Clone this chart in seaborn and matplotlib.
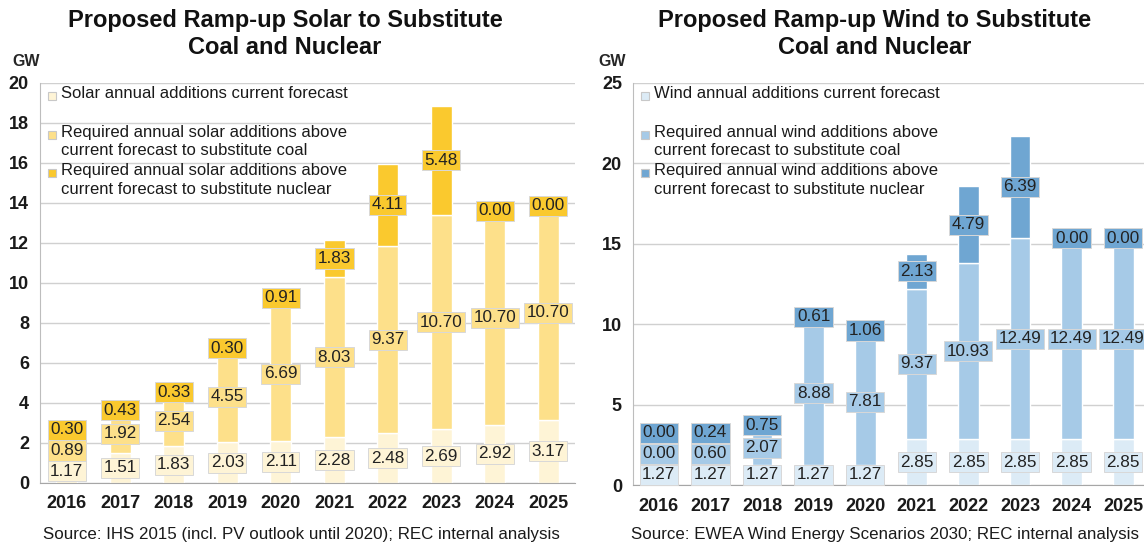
import matplotlib
matplotlib.use("Agg")
import matplotlib.pyplot as plt
import seaborn as sns
from matplotlib.patches import Rectangle

# data
years = ['2016', '2017', '2018', '2019', '2020', '2021', '2022', '2023', '2024', '2025']

solar_current = [1.17, 1.51, 1.83, 2.03, 2.11, 2.28, 2.48, 2.69, 2.92, 3.17]
solar_coal = [0.89, 1.92, 2.54, 4.55, 6.69, 8.03, 9.37, 10.70, 10.70, 10.70]
solar_nuclear = [0.30, 0.43, 0.33, 0.30, 0.91, 1.83, 4.11, 5.48, 0.00, 0.00]

wind_current = [1.27, 1.27, 1.27, 1.27, 1.27, 2.85, 2.85, 2.85, 2.85, 2.85]
wind_coal = [0.00, 0.60, 2.07, 8.88, 7.81, 9.37, 10.93, 12.49, 12.49, 12.49]
wind_nuclear = [0.00, 0.24, 0.75, 0.61, 1.06, 2.13, 4.79, 6.39, 0.00, 0.00]

solar_labels = [
    "Solar annual additions current forecast",
    "Required annual solar additions above\ncurrent forecast to substitute coal",
    "Required annual solar additions above\ncurrent forecast to substitute nuclear",
]
wind_labels = [
    "Wind annual additions current forecast",
    "Required annual wind additions above\ncurrent forecast to substitute coal",
    "Required annual wind additions above\ncurrent forecast to substitute nuclear",
]

solar_colors = ['#FEF4D6', '#FDE08A', '#FAC92E']
wind_colors = ['#DCEBF6', '#A6CAE7', '#6FA6D2']

W, H = 1144, 546

sns.set_style("white")
plt.rcParams['font.family'] = ['Liberation Sans', 'DejaVu Sans']

fig = plt.figure(figsize=(W / 100, H / 100), dpi=100)
ax1 = fig.add_axes([0.035, 0.1154, 0.4676, 0.7326])
ax2 = fig.add_axes([633 / W, 0.1117, 516 / W, 0.7363])


def legend_box(x_px, labels, colors):
    # Excel-style legend: two text rows per entry, square beside the first line
    for k, (lab, col) in enumerate(zip(labels, colors)):
        y_px = 96 + 38.5 * k
        fig.patches.append(Rectangle(((x_px - 4) / W, 1 - (y_px + 4) / H),
                                     8 / W, 8 / H, transform=fig.transFigure,
                                     fc=col, ec='#c8c8c8', lw=0.8))
        fig.text((x_px + 9) / W, 1 - (y_px - 10) / H, lab, ha='left', va='top',
                 fontsize=12, color='#1a1a1a', linespacing=1.3)


def draw_panel(ax, series, colors, ymax, step):
    bottom = [0.0] * len(years)
    prev_lab = [-10.0] * len(years)
    gap = ymax * 0.052
    for vals, col in zip(series, colors):
        sns.barplot(x=years, y=vals, bottom=bottom, color=col, width=0.4,
                    saturation=1, ax=ax, zorder=2)
        for i, v in enumerate(vals):
            yc = max(bottom[i] + v / 2, prev_lab[i] + gap)
            prev_lab[i] = yc
            ax.text(i, yc, f"{v:.2f}", ha='center', va='center', fontsize=12.3,
                    color='#222222', zorder=5,
                    bbox=dict(boxstyle='square,pad=0.15', fc=col,
                              ec='#d8d8d8', lw=0.7))
        bottom = [b + v for b, v in zip(bottom, vals)]

    ax.set_ylim(0, ymax)
    ax.set_xlim(-0.5, len(years) - 0.5)
    ax.set_yticks(range(0, ymax + 1, step))
    ax.yaxis.grid(True, color='#d0d0d0', lw=1)
    ax.set_axisbelow(True)
    for s in ['top', 'right']:
        ax.spines[s].set_visible(False)
    ax.spines['left'].set_color('#bdbdbd')
    ax.spines['bottom'].set_color('#a6a6a6')
    ax.set_xticks([i - 0.5 for i in range(len(years) + 1)], minor=True)
    ax.tick_params(axis='x', which='major', length=0, pad=9)
    ax.tick_params(axis='x', which='minor', length=5, color='#a6a6a6')
    ax.tick_params(axis='y', length=5, color='#bdbdbd', pad=3)
    for t in ax.get_xticklabels() + ax.get_yticklabels():
        t.set_fontweight('bold')
        t.set_fontsize(13)
        t.set_color('#1a1a1a')
    ax.set_xlabel('')
    ax.set_ylabel('')


draw_panel(ax1, [solar_current, solar_coal, solar_nuclear], solar_colors, 20, 2)
draw_panel(ax2, [wind_current, wind_coal, wind_nuclear], wind_colors, 25, 5)

legend_box(52, solar_labels, solar_colors)
legend_box(645, wind_labels, wind_colors)

fig.text(285 / W, 1 - 34 / H,
         "Proposed Ramp-up Solar to Substitute\nCoal and Nuclear",
         ha='center', va='center', fontsize=17, fontweight='bold',
         linespacing=1.2, color='#111111')
fig.text(875 / W, 1 - 34 / H,
         "Proposed Ramp-up Wind to Substitute\nCoal and Nuclear",
         ha='center', va='center', fontsize=17, fontweight='bold',
         linespacing=1.2, color='#111111')

fig.text(12 / W, 1 - 62 / H, "GW", ha='left', va='center',
         fontsize=11.5, fontweight='bold')
fig.text(598 / W, 1 - 62 / H, "GW", ha='left', va='center',
         fontsize=11.5, fontweight='bold')

fig.text(301 / W, 1 - 534 / H,
         "Source: IHS 2015 (incl. PV outlook until 2020); REC internal analysis",
         ha='center', va='center', fontsize=12.2, color='#1a1a1a')
fig.text(885 / W, 1 - 534 / H,
         "Source: EWEA Wind Energy Scenarios 2030; REC internal analysis",
         ha='center', va='center', fontsize=12.2, color='#1a1a1a')

fig.savefig("out.png", dpi=100)
